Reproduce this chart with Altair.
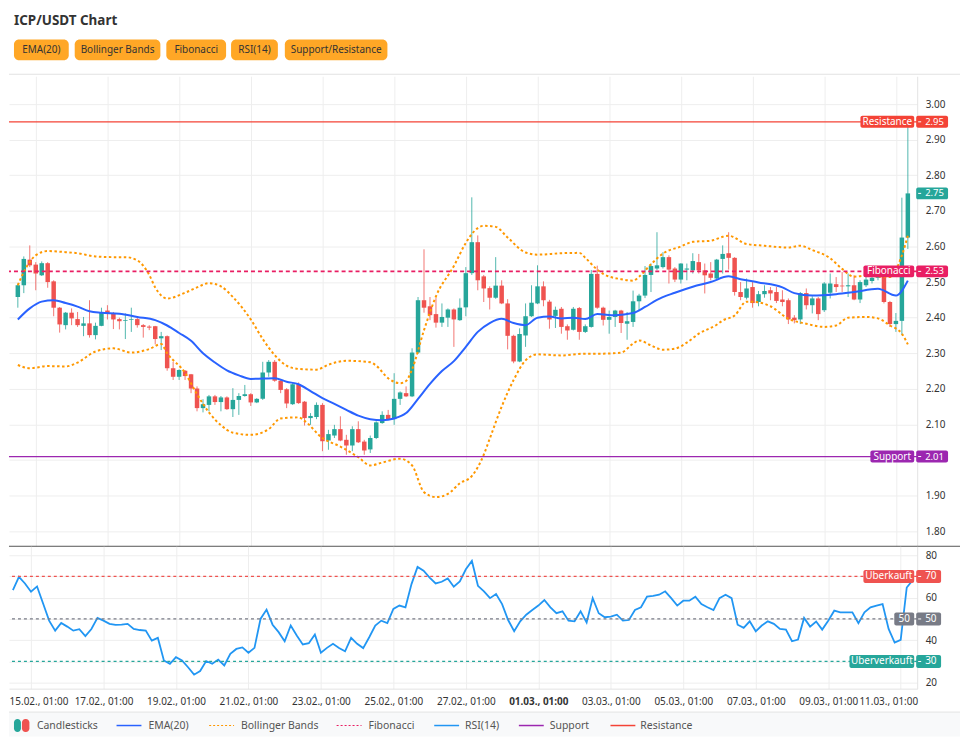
import datetime as dt
import altair as alt
import pandas as pd

# ---------------------------------------------------------------- data
OPEN = [2.458, 2.491, 2.563, 2.549, 2.519, 2.553, 2.502, 2.428, 2.379, 2.414,
        2.396, 2.377, 2.384, 2.351, 2.377, 2.420, 2.412, 2.396, 2.391, 2.394,
        2.396, 2.379, 2.375, 2.376, 2.342, 2.348, 2.258, 2.234, 2.251, 2.241,
        2.201, 2.146, 2.155, 2.179, 2.163, 2.176, 2.143, 2.169, 2.180, 2.185,
        2.162, 2.172, 2.246, 2.276, 2.223, 2.199, 2.157, 2.213, 2.164, 2.118,
        2.121, 2.155, 2.055, 2.069, 2.087, 2.057, 2.041, 2.087, 2.052, 2.030,
        2.062, 2.104, 2.127, 2.115, 2.172, 2.188, 2.179, 2.302, 2.449, 2.432,
        2.410, 2.386, 2.400, 2.423, 2.393, 2.429, 2.525, 2.612, 2.516, 2.483,
        2.456, 2.490, 2.440, 2.349, 2.277, 2.350, 2.404, 2.440, 2.488, 2.445,
        2.405, 2.425, 2.376, 2.366, 2.427, 2.360, 2.374, 2.523, 2.428, 2.394,
        2.402, 2.420, 2.383, 2.388, 2.446, 2.462, 2.520, 2.538, 2.542, 2.570,
        2.538, 2.507, 2.535, 2.533, 2.556, 2.533, 2.524, 2.510, 2.565, 2.581,
        2.568, 2.472, 2.456, 2.486, 2.444, 2.466, 2.477, 2.472, 2.451, 2.449,
        2.400, 2.395, 2.469, 2.435, 2.454, 2.421, 2.470, 2.494, 2.490, 2.488,
        2.491, 2.451, 2.491, 2.503, 2.512, 2.527, 2.444, 2.382, 2.391, 2.625]
HIGH = [2.496, 2.572, 2.603, 2.556, 2.558, 2.556, 2.505, 2.430, 2.416, 2.426,
        2.416, 2.402, 2.449, 2.386, 2.428, 2.435, 2.416, 2.400, 2.412, 2.428,
        2.400, 2.382, 2.379, 2.377, 2.360, 2.350, 2.276, 2.255, 2.253, 2.242,
        2.207, 2.171, 2.183, 2.183, 2.180, 2.179, 2.202, 2.188, 2.211, 2.188,
        2.174, 2.276, 2.281, 2.281, 2.225, 2.202, 2.216, 2.218, 2.166, 2.132,
        2.162, 2.160, 2.085, 2.099, 2.123, 2.071, 2.095, 2.109, 2.057, 2.069,
        2.109, 2.137, 2.141, 2.244, 2.193, 2.207, 2.314, 2.458, 2.592, 2.458,
        2.455, 2.440, 2.426, 2.426, 2.454, 2.542, 2.738, 2.631, 2.520, 2.488,
        2.570, 2.505, 2.452, 2.352, 2.370, 2.440, 2.491, 2.547, 2.502, 2.450,
        2.431, 2.430, 2.381, 2.430, 2.430, 2.381, 2.534, 2.546, 2.431, 2.420,
        2.422, 2.422, 2.416, 2.476, 2.467, 2.545, 2.552, 2.640, 2.584, 2.575,
        2.542, 2.553, 2.552, 2.581, 2.579, 2.552, 2.556, 2.565, 2.603, 2.640,
        2.570, 2.500, 2.510, 2.500, 2.475, 2.491, 2.486, 2.486, 2.477, 2.454,
        2.407, 2.472, 2.482, 2.460, 2.458, 2.500, 2.524, 2.514, 2.528, 2.524,
        2.519, 2.505, 2.524, 2.538, 2.545, 2.532, 2.447, 2.413, 2.737, 2.950]
LOW = [2.428, 2.469, 2.542, 2.477, 2.517, 2.484, 2.404, 2.358, 2.367, 2.379,
       2.374, 2.348, 2.344, 2.339, 2.376, 2.395, 2.368, 2.367, 2.340, 2.360,
       2.372, 2.344, 2.365, 2.325, 2.309, 2.251, 2.225, 2.225, 2.225, 2.188,
       2.137, 2.134, 2.137, 2.155, 2.137, 2.141, 2.121, 2.127, 2.178, 2.152,
       2.160, 2.169, 2.234, 2.220, 2.188, 2.146, 2.155, 2.158, 2.097, 2.099,
       2.115, 2.025, 2.029, 2.062, 2.053, 2.015, 2.025, 2.048, 2.015, 2.020,
       2.059, 2.102, 2.113, 2.099, 2.155, 2.177, 2.177, 2.298, 2.414, 2.393,
       2.372, 2.374, 2.374, 2.318, 2.391, 2.404, 2.520, 2.477, 2.444, 2.423,
       2.453, 2.438, 2.311, 2.272, 2.275, 2.318, 2.402, 2.438, 2.432, 2.369,
       2.371, 2.355, 2.338, 2.364, 2.338, 2.357, 2.372, 2.425, 2.378, 2.355,
       2.374, 2.357, 2.338, 2.374, 2.418, 2.455, 2.472, 2.533, 2.538, 2.496,
       2.500, 2.496, 2.505, 2.524, 2.524, 2.468, 2.505, 2.507, 2.524, 2.535,
       2.462, 2.449, 2.451, 2.428, 2.432, 2.456, 2.449, 2.441, 2.432, 2.382,
       2.384, 2.382, 2.423, 2.412, 2.393, 2.416, 2.454, 2.472, 2.472, 2.458,
       2.449, 2.441, 2.486, 2.496, 2.505, 2.440, 2.374, 2.360, 2.351, 2.593]
CLOSE = [2.491, 2.565, 2.547, 2.524, 2.553, 2.500, 2.428, 2.381, 2.414, 2.398,
         2.379, 2.384, 2.351, 2.377, 2.416, 2.412, 2.395, 2.390, 2.393, 2.396,
         2.379, 2.374, 2.372, 2.340, 2.348, 2.258, 2.234, 2.253, 2.236, 2.201,
         2.146, 2.157, 2.179, 2.163, 2.176, 2.143, 2.169, 2.180, 2.185, 2.162,
         2.172, 2.246, 2.276, 2.223, 2.197, 2.159, 2.213, 2.160, 2.118, 2.124,
         2.155, 2.053, 2.073, 2.087, 2.055, 2.041, 2.087, 2.050, 2.027, 2.062,
         2.106, 2.127, 2.115, 2.172, 2.190, 2.179, 2.302, 2.449, 2.428, 2.407,
         2.386, 2.402, 2.423, 2.395, 2.428, 2.525, 2.612, 2.505, 2.482, 2.456,
         2.490, 2.440, 2.349, 2.277, 2.354, 2.404, 2.442, 2.488, 2.449, 2.395,
         2.422, 2.374, 2.364, 2.425, 2.360, 2.376, 2.523, 2.428, 2.394, 2.402,
         2.420, 2.385, 2.390, 2.446, 2.462, 2.520, 2.545, 2.547, 2.570, 2.535,
         2.507, 2.552, 2.538, 2.559, 2.533, 2.519, 2.512, 2.563, 2.579, 2.568,
         2.472, 2.458, 2.482, 2.441, 2.466, 2.475, 2.468, 2.447, 2.444, 2.395,
         2.393, 2.469, 2.435, 2.454, 2.410, 2.496, 2.496, 2.486, 2.488, 2.491,
         2.451, 2.500, 2.507, 2.512, 2.527, 2.444, 2.382, 2.391, 2.625, 2.749]
RSI14 = [63.6, 69.8, 66.7, 62.8, 65.3, 57.3, 49.2, 44.5, 48.1, 46.4,
         44.5, 45.2, 41.9, 45.3, 50.5, 49.2, 47.7, 47.2, 47.3, 47.7,
         45.3, 44.8, 44.5, 39.8, 41.1, 30.5, 28.9, 32.0, 30.5, 27.3,
         23.8, 25.5, 30.2, 28.9, 30.9, 28.1, 33.6, 35.9, 36.6, 34.1,
         36.4, 50.0, 54.4, 47.3, 43.8, 39.5, 46.9, 42.2, 38.0, 38.6,
         42.7, 34.1, 36.4, 38.3, 36.3, 34.8, 41.1, 38.3, 36.3, 41.4,
         46.9, 49.2, 48.1, 54.7, 56.3, 55.5, 66.4, 74.5, 72.7, 69.5,
         66.7, 67.5, 69.1, 65.2, 67.7, 73.4, 77.3, 65.6, 63.0, 59.8,
         61.7, 57.0, 49.5, 44.2, 48.9, 52.0, 54.2, 56.3, 58.9, 55.5,
         52.7, 53.6, 49.2, 48.9, 53.6, 48.3, 59.8, 52.7, 50.8, 51.1,
         52.0, 49.2, 49.5, 54.2, 55.5, 60.5, 60.9, 61.4, 63.0, 59.8,
         56.3, 58.6, 58.6, 60.5, 57.0, 55.5, 54.2, 59.8, 61.4, 59.8,
         47.3, 45.8, 48.9, 44.2, 46.9, 48.9, 47.7, 45.3, 45.0, 39.5,
         40.3, 50.5, 46.4, 48.8, 45.0, 49.2, 53.9, 53.1, 53.1, 53.1,
         48.0, 53.1, 55.5, 56.3, 57.0, 45.3, 38.9, 40.2, 64.8, 68.3]

EMA_AT = [0, 2, 4, 6, 8, 10, 12, 14, 17, 20, 23, 25, 27, 29, 31, 33, 35, 37, 39, 41,
          43, 45, 47, 49, 51, 53, 55, 57, 59, 61, 63, 65, 67, 69, 71, 73, 75, 77, 79, 81,
          83, 85, 87, 89, 91, 93, 95, 97, 100, 103, 105, 107, 110, 113, 116, 119, 121,
          124, 128, 130, 133, 137, 140, 144, 147, 149]
EMA20 = [2.395, 2.426, 2.445, 2.449, 2.441, 2.431, 2.418, 2.414, 2.411, 2.402, 2.393,
         2.378, 2.357, 2.335, 2.300, 2.274, 2.252, 2.238, 2.228, 2.229, 2.230, 2.220,
         2.213, 2.194, 2.174, 2.158, 2.141, 2.125, 2.115, 2.112, 2.117, 2.132, 2.172,
         2.214, 2.250, 2.278, 2.318, 2.360, 2.385, 2.397, 2.385, 2.379, 2.400, 2.403,
         2.398, 2.400, 2.396, 2.410, 2.407, 2.413, 2.430, 2.450, 2.470, 2.487, 2.500,
         2.516, 2.508, 2.499, 2.485, 2.469, 2.462, 2.466, 2.472, 2.481, 2.462, 2.504]

BB_UP_AT = [0, 1, 3, 5, 8, 10, 13, 16, 18, 20, 22, 23, 25, 28, 30, 32, 34, 36, 39, 41,
            43, 45, 47, 50, 52, 55, 59, 60, 62, 64, 65, 66, 68, 70, 73, 75, 76, 78, 80,
            82, 85, 87, 91, 94, 95, 97, 98, 101, 103, 104, 106, 108, 111, 113, 116, 118,
            119, 122, 125, 129, 131, 133, 136, 138, 140, 142, 146, 148, 149]
BB_UP = [2.491, 2.528, 2.575, 2.587, 2.584, 2.581, 2.572, 2.570, 2.570, 2.561, 2.520,
         2.485, 2.454, 2.470, 2.485, 2.497, 2.488, 2.458, 2.395, 2.340, 2.295, 2.265,
         2.256, 2.254, 2.268, 2.279, 2.275, 2.265, 2.230, 2.216, 2.222, 2.255, 2.365,
         2.460, 2.545, 2.610, 2.635, 2.658, 2.655, 2.625, 2.583, 2.577, 2.581, 2.582,
         2.568, 2.535, 2.523, 2.508, 2.504, 2.515, 2.550, 2.580, 2.600, 2.613, 2.616,
         2.627, 2.630, 2.607, 2.602, 2.597, 2.602, 2.590, 2.567, 2.537, 2.515, 2.518,
         2.514, 2.575, 2.630]

BB_LO_AT = [0, 2, 5, 8, 10, 13, 16, 19, 22, 24, 25, 28, 30, 32, 34, 36, 39, 42, 44, 47,
            48, 51, 54, 57, 59, 61, 64, 66, 68, 70, 72, 74, 76, 78, 79, 81, 83, 85, 87,
            91, 95, 98, 101, 103, 104, 106, 108, 110, 112, 114, 117, 118, 120, 122, 124,
            126, 129, 132, 135, 137, 139, 142, 144, 146, 148, 149]
BB_LO = [2.267, 2.258, 2.264, 2.263, 2.274, 2.305, 2.314, 2.302, 2.312, 2.326, 2.300,
         2.245, 2.185, 2.134, 2.098, 2.077, 2.071, 2.087, 2.117, 2.120, 2.110, 2.062,
         2.038, 2.008, 1.985, 1.993, 2.004, 1.985, 1.910, 1.896, 1.905, 1.935, 1.955,
         2.015, 2.060, 2.150, 2.225, 2.280, 2.297, 2.294, 2.299, 2.299, 2.302, 2.327,
         2.336, 2.322, 2.310, 2.313, 2.330, 2.355, 2.380, 2.392, 2.406, 2.445, 2.443,
         2.432, 2.397, 2.383, 2.374, 2.378, 2.400, 2.402, 2.398, 2.378, 2.355, 2.325]

FIB_LEVEL = 2.53
SUPPORT = 2.01
RESISTANCE = 2.95
PRICE_TICKS = [1.80, 1.90, 2.00, 2.10, 2.20, 2.30, 2.40, 2.50, 2.60, 2.70, 2.80, 2.90, 3.00]
RSI_TICKS = [20, 30, 40, 50, 60, 70, 80]
RSI_LEVELS = [70, 50, 30]
RSI_LEVEL_NAMES = ["Überkauft", "50", "Überverkauft"]
BUTTONS = ["EMA(20)", "Bollinger Bands", "Fibonacci", "RSI(14)", "Support/Resistance"]
LEGEND_NAMES = ["Candlesticks", "EMA(20)", "Bollinger Bands", "Fibonacci",
                "RSI(14)", "Support", "Resistance"]
TITLE = "ICP/USDT Chart"

# ---------------------------------------------------------------- style / layout
FONT = "Noto Sans"
GREEN, RED = "#26a69a", "#ef5350"
EMA_C, BB_C, FIB_C, RSI_C = "#2962ff", "#ff9800", "#e91e63", "#2196f3"
SUP_C, RES_C, GREY_C = "#9c27b0", "#f44336", "#787b86"
GRID, TEXT_C = "#eeeeee", "#333333"
BTN_C = "#ffa726"

W = 912
FULL_W = 955
H_HEAD, H_MAIN, H_RSI, H_LEG = 67, 472, 143, 48

START = dt.datetime(2025, 2, 14, 13, 0, tzinfo=dt.timezone.utc)


def ms(i):
    return (START + dt.timedelta(hours=4 * i)).timestamp() * 1000


N = len(CLOSE)
TICK_MS = [ms(3 + 12 * k) for k in range(13)]
FIRST_TICK, LAST_TICK = TICK_MS[0], TICK_MS[-1]
xs = alt.Scale(type="utc", domain=[ms(-0.646), ms(149.73)])

# ---------------------------------------------------------------- frames
cdf = pd.DataFrame({"t": [ms(i) for i in range(N)], "o": OPEN, "h": HIGH,
                    "l": LOW, "c": CLOSE})
cdf["bot"] = cdf[["o", "c"]].min(axis=1)
cdf["top"] = cdf[["o", "c"]].max(axis=1)
cdf["dir"] = ["up" if c >= o else "down" for o, c in zip(OPEN, CLOSE)]

ema_df = pd.DataFrame({"t": [ms(i) for i in EMA_AT], "v": EMA20})
bb_df = pd.concat([
    pd.DataFrame({"t": [ms(i) for i in BB_UP_AT], "v": BB_UP, "band": "upper"}),
    pd.DataFrame({"t": [ms(i) for i in BB_LO_AT], "v": BB_LO, "band": "lower"}),
])
rsi_df = pd.DataFrame({"t": [ms(i) for i in range(N)], "v": RSI14})

lvl_names = ["Resistance", "Fibonacci", "Support"]
lvl_vals = [RESISTANCE, FIB_LEVEL, SUPPORT]
lvl_cols = [RES_C, FIB_C, SUP_C]
lvl_w = [54, 51, 44]
lvl_df = pd.DataFrame({"v": lvl_vals, "name": lvl_names, "col": lvl_cols,
                       "bx": [W - 3 - w for w in lvl_w], "bx2": [W - 3] * 3})
lvl_df["tx"] = (lvl_df["bx"] + lvl_df["bx2"]) / 2

ax_df = pd.DataFrame({"v": lvl_vals + [CLOSE[-1]],
                      "txt": [f"{v:.2f}" for v in lvl_vals + [CLOSE[-1]]],
                      "col": lvl_cols + [GREEN]})

y_main = alt.Scale(domain=[1.758, 3.078], nice=False, zero=False)
y_rsi = alt.Scale(domain=[17.2, 84.2], nice=False, zero=False)

x_main = alt.X("t:T", scale=xs, title=None,
               axis=alt.Axis(values=TICK_MS, grid=True, gridColor=GRID, labels=False,
                             ticks=False, domain=False, title=None))
# the 2.00 label sits under the support price box, as in the original
yax_main = alt.Axis(orient="right", values=PRICE_TICKS, grid=True,
                    labelExpr="abs(datum.value - 2) < 0.001 ? '' : format(datum.value, '.2f')",
                    gridColor=GRID, ticks=False, tickSize=0, labelPadding=8,
                    labelFontSize=10, labelColor=TEXT_C, domain=True,
                    domainColor="#e3e3e3", title=None, labelOverlap=False)


def ym(field):
    return alt.Y(field, scale=y_main, axis=yax_main, title=None)


color_dir = alt.Color("dir:N", scale=alt.Scale(domain=["up", "down"], range=[GREEN, RED]),
                      legend=None)

wicks = alt.Chart(cdf).mark_rule(strokeWidth=1, opacity=0.8).encode(
    x=x_main, y=ym("l:Q"), y2="h:Q", color=color_dir)
bodies = alt.Chart(cdf).mark_bar(size=4.5).encode(
    x=x_main, y=ym("bot:Q"), y2="top:Q", color=color_dir)
bb_lines = alt.Chart(bb_df).mark_line(color=BB_C, strokeWidth=2, strokeDash=[2.5, 2.5],
                                      interpolate="monotone").encode(
    x=x_main, y=ym("v:Q"), detail="band:N")
ema_line = alt.Chart(ema_df).mark_line(color=EMA_C, strokeWidth=2,
                                       interpolate="monotone").encode(x=x_main, y=ym("v:Q"))
fib_rule = alt.Chart(lvl_df[lvl_df.name == "Fibonacci"]).mark_rule(
    color=FIB_C, strokeWidth=1.6, strokeDash=[4, 3]).encode(y=ym("v:Q"))
sr_rules = alt.Chart(lvl_df[lvl_df.name != "Fibonacci"]).mark_rule(strokeWidth=1.3).encode(
    y=ym("v:Q"), color=alt.Color("col:N", scale=None))
lvl_boxes = alt.Chart(lvl_df).mark_rect(yOffset=-6, y2Offset=6, cornerRadius=2).encode(
    x=alt.X("bx:Q", scale=None, axis=None), x2="bx2:Q", y=ym("v:Q"), y2="v:Q",
    color=alt.Color("col:N", scale=None))
lvl_text = alt.Chart(lvl_df).mark_text(color="white", fontSize=10, align="center",
                                       baseline="middle").encode(
    x=alt.X("tx:Q", scale=None, axis=None), y=ym("v:Q"), text="name:N")
ax_boxes = alt.Chart(ax_df).mark_rect(yOffset=-6, y2Offset=6, cornerRadius=2).encode(
    x=alt.value(W - 1), x2=alt.value(W + 31), y=ym("v:Q"), y2="v:Q",
    color=alt.Color("col:N", scale=None))
ax_ticks = alt.Chart(ax_df).mark_rule(color="white", strokeWidth=1).encode(
    x=alt.value(W + 1), x2=alt.value(W + 4), y=ym("v:Q"))
ax_text = alt.Chart(ax_df).mark_text(color="white", fontSize=9.5, align="left",
                                     baseline="middle").encode(
    x=alt.value(W + 8), y=ym("v:Q"), text="txt:N")
sep_df = pd.DataFrame({"k": [0]})
main_sep = alt.Chart(sep_df).mark_rule(color="#555555", strokeWidth=1).encode(
    x=alt.value(0), x2=alt.value(FULL_W), y=alt.value(H_MAIN))

main = alt.layer(wicks, bodies, bb_lines, ema_line, fib_rule, sr_rules, lvl_boxes,
                 lvl_text, ax_boxes, ax_ticks, ax_text, main_sep).properties(
    width=W, height=H_MAIN)

# ---------------------------------------------------------------- RSI pane
x_rsi = alt.X("t:T", scale=xs, title=None,
              axis=alt.Axis(values=TICK_MS,
                            labelExpr="utcFormat(datum.value, '%d.%m., %H:%M')",
                            grid=True, gridColor=GRID, ticks=False, tickSize=0,
                            labelPadding=8, labelFontSize=10, labelColor=TEXT_C,
                            labelFontWeight=alt.ExprRef(
                                expr="utcdate(datum.value) == 1 ? 'bold' : 'normal'"),
                            labelAlign=alt.ExprRef(
                                expr=f"datum.value <= {FIRST_TICK + 1} ? 'left' : "
                                     f"(datum.value >= {LAST_TICK - 1} ? 'right' : 'center')"),
                            labelOffset=alt.ExprRef(
                                expr=f"datum.value <= {FIRST_TICK + 1} ? -22 : "
                                     f"(datum.value >= {LAST_TICK - 1} ? 17 : 0)"),
                            labelFlush=False, labelOverlap=False,
                            domain=True, domainColor="#e3e3e3", title=None))
yax_rsi = alt.Axis(orient="right", values=RSI_TICKS, format="d", grid=True, gridColor=GRID,
                   ticks=False, tickSize=0, labelPadding=8, labelFontSize=10,
                   labelColor=TEXT_C, domain=True, domainColor="#e3e3e3", title=None,
                   labelOverlap=False)


def yr(field):
    return alt.Y(field, scale=y_rsi, axis=yax_rsi, title=None)


rl_w = [51, 20, 65]
rl_df = pd.DataFrame({"v": RSI_LEVELS, "name": RSI_LEVEL_NAMES,
                      "col": [RED, GREY_C, GREEN], "txt": [str(v) for v in RSI_LEVELS],
                      "bx": [W - 3 - w for w in rl_w], "bx2": [W - 3] * 3})
rl_df["tx"] = (rl_df["bx"] + rl_df["bx2"]) / 2

rsi_line = alt.Chart(rsi_df).mark_line(color=RSI_C, strokeWidth=1.8).encode(
    x=x_rsi, y=yr("v:Q"))
rsi_rules = alt.Chart(rl_df).mark_rule(strokeWidth=1.2, strokeDash=[3, 3]).encode(
    y=yr("v:Q"), color=alt.Color("col:N", scale=None))
rsi_boxes = alt.Chart(rl_df).mark_rect(yOffset=-6.5, y2Offset=6.5, cornerRadius=2).encode(
    x=alt.X("bx:Q", scale=None, axis=None), x2="bx2:Q", y=yr("v:Q"), y2="v:Q",
    color=alt.Color("col:N", scale=None))
rsi_btext = alt.Chart(rl_df).mark_text(color="white", fontSize=10, align="center",
                                       baseline="middle").encode(
    x=alt.X("tx:Q", scale=None, axis=None), y=yr("v:Q"), text="name:N")
rsi_axbox = alt.Chart(rl_df).mark_rect(yOffset=-6.5, y2Offset=6.5, cornerRadius=2).encode(
    x=alt.value(W - 1), x2=alt.value(W + 24), y=yr("v:Q"), y2="v:Q",
    color=alt.Color("col:N", scale=None))
rsi_axtick = alt.Chart(rl_df).mark_rule(color="white", strokeWidth=1).encode(
    x=alt.value(W + 1), x2=alt.value(W + 4), y=yr("v:Q"))
rsi_axtext = alt.Chart(rl_df).mark_text(color="white", fontSize=10, align="left",
                                        baseline="middle").encode(
    x=alt.value(W + 8), y=yr("v:Q"), text="txt:N")

rsi = alt.layer(rsi_line, rsi_rules, rsi_boxes, rsi_btext, rsi_axbox, rsi_axtick,
                rsi_axtext).properties(width=W, height=H_RSI)

# ---------------------------------------------------------------- header
btn_x0 = [5, 66, 158, 223, 277]
btn_x1 = [60, 152, 218, 270, 380]
btn_df = pd.DataFrame({"label": BUTTONS, "x0": btn_x0, "x1": btn_x1,
                       "y0": [30] * 5, "y1": [51] * 5})
btn_df["xc"] = (btn_df["x0"] + btn_df["x1"]) / 2
btn_df["yc"] = (btn_df["y0"] + btn_df["y1"]) / 2
title_df = pd.DataFrame({"txt": [TITLE], "x": [5], "y": [16]})

pix = dict(scale=None, axis=None)
head_title = alt.Chart(title_df).mark_text(align="left", baseline="alphabetic", fontSize=13.5,
                                           fontWeight="bold", color=TEXT_C).encode(
    x=alt.X("x:Q", **pix), y=alt.Y("y:Q", **pix), text="txt:N")
head_btn = alt.Chart(btn_df).mark_rect(color=BTN_C, cornerRadius=5).encode(
    x=alt.X("x0:Q", **pix), x2="x1:Q", y=alt.Y("y0:Q", **pix), y2="y1:Q")
head_btn_t = alt.Chart(btn_df).mark_text(fontSize=10, color=TEXT_C, align="center",
                                         baseline="middle").encode(
    x=alt.X("xc:Q", **pix), y=alt.Y("yc:Q", **pix), text="label:N")
head_sep = alt.Chart(sep_df).mark_rule(color="#e2e2e2", strokeWidth=1).encode(
    x=alt.value(0), x2=alt.value(FULL_W), y=alt.value(H_HEAD - 2))
header = alt.layer(head_title, head_btn, head_btn_t, head_sep).properties(
    width=FULL_W, height=H_HEAD)

# ---------------------------------------------------------------- legend
LEG_Y = 37
leg_text_df = pd.DataFrame({"name": LEGEND_NAMES, "x": [28, 140, 233, 361, 458, 543, 634],
                            "y": [LEG_Y] * 7})
line_x0 = [108, 201, 329, 427, 512, 604]
leg_line_df = pd.DataFrame({"x0": line_x0, "x1": [x + 25 for x in line_x0],
                            "y": [LEG_Y] * 6,
                            "col": [EMA_C, BB_C, FIB_C, RSI_C, SUP_C, RES_C],
                            "dotted": [False, True, True, False, False, False]})
pill_df = pd.DataFrame({"x0": [5, 13], "x1": [12, 20.5], "y0": [LEG_Y - 6.5] * 2,
                        "y1": [LEG_Y + 6.5] * 2, "col": [GREEN, RED]})
bg_df = pd.DataFrame({"x0": [0], "x1": [FULL_W], "y0": [24], "y1": [H_LEG]})

leg_bg = alt.Chart(bg_df).mark_rect(color="#f8f9fa").encode(
    x=alt.X("x0:Q", **pix), x2="x1:Q", y=alt.Y("y0:Q", **pix), y2="y1:Q")
leg_sep = alt.Chart(sep_df).mark_rule(color="#e2e2e2", strokeWidth=1).encode(
    x=alt.value(0), x2=alt.value(FULL_W), y=alt.value(23.5))
leg_pills = alt.Chart(pill_df).mark_rect(cornerRadius=3.5).encode(
    x=alt.X("x0:Q", **pix), x2="x1:Q", y=alt.Y("y0:Q", **pix), y2="y1:Q",
    color=alt.Color("col:N", scale=None))
leg_solid = alt.Chart(leg_line_df[~leg_line_df.dotted]).mark_rule(strokeWidth=1.5).encode(
    x=alt.X("x0:Q", **pix), x2="x1:Q", y=alt.Y("y:Q", **pix),
    color=alt.Color("col:N", scale=None))
leg_dot = alt.Chart(leg_line_df[leg_line_df.dotted]).mark_rule(
    strokeWidth=1.2, strokeDash=[2, 2]).encode(
    x=alt.X("x0:Q", **pix), x2="x1:Q", y=alt.Y("y:Q", **pix),
    color=alt.Color("col:N", scale=None))
leg_text = alt.Chart(leg_text_df).mark_text(align="left", baseline="middle", fontSize=10.5,
                                            color="#555555").encode(
    x=alt.X("x:Q", **pix), y=alt.Y("y:Q", **pix), text="name:N")
legend = alt.layer(leg_bg, leg_sep, leg_pills, leg_solid, leg_dot, leg_text).properties(
    width=FULL_W, height=H_LEG)

# ---------------------------------------------------------------- compose
chart = alt.vconcat(header, main, rsi, legend, spacing=0, bounds="flush").properties(
    padding=0
).configure(font=FONT, background="white").configure_view(strokeWidth=0)

chart.save("out.html", embed_options={"renderer": "svg", "actions": False})
